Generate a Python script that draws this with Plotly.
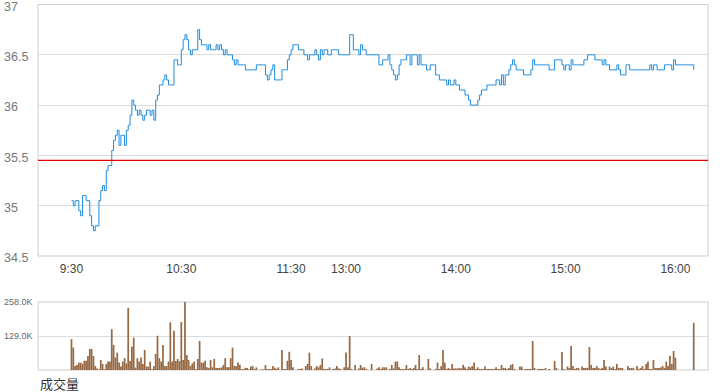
import plotly.graph_objects as go

# ---- data (HK-style intraday: 09:30-12:00, 13:00-16:10; index = trading minute since open) ----
prev_close = 35.45

price = [
    35.05, 35.0, 35.05, 35.05, 34.95, 34.9, 35.1, 35.1, 35.05, 35.05,
    34.9, 34.8, 34.75, 34.8, 34.8, 35.05, 35.15, 35.2, 35.15, 35.35,
    35.4, 35.4, 35.55, 35.65, 35.7, 35.75, 35.6, 35.7, 35.7, 35.6,
    35.75, 35.8, 35.9, 36.05, 36.0, 35.95, 35.9, 35.95, 35.9, 35.85,
    35.9, 35.95, 35.95, 35.9, 35.95, 35.85, 36.05, 36.1, 36.2, 36.2,
    36.25, 36.3, 36.25, 36.2, 36.2, 36.2, 36.45, 36.45, 36.4, 36.4,
    36.55, 36.65, 36.7, 36.65, 36.55, 36.5, 36.55, 36.55, 36.55, 36.75,
    36.65, 36.6, 36.6, 36.6, 36.55, 36.6, 36.55, 36.55, 36.55, 36.6,
    36.55, 36.6, 36.55, 36.5, 36.55, 36.5, 36.5, 36.5, 36.45, 36.4,
    36.45, 36.4, 36.4, 36.4, 36.4, 36.35, 36.35, 36.35, 36.35, 36.35,
    36.35, 36.4, 36.4, 36.4, 36.4, 36.4, 36.3, 36.25, 36.3, 36.35,
    36.4, 36.25, 36.25, 36.25, 36.25, 36.35, 36.35, 36.35, 36.45, 36.5,
    36.55, 36.6, 36.6, 36.6, 36.55, 36.55, 36.55, 36.5, 36.5, 36.45,
    36.5, 36.5, 36.5, 36.55, 36.5, 36.45, 36.55, 36.5, 36.55, 36.55,
    36.5, 36.5, 36.55, 36.55, 36.55, 36.55, 36.5, 36.5, 36.5, 36.5,
    36.5, 36.5, 36.7, 36.7, 36.55, 36.55, 36.55, 36.5, 36.6, 36.55,
    36.55, 36.5, 36.5, 36.5, 36.5, 36.5, 36.5, 36.5, 36.4, 36.4,
    36.45, 36.45, 36.45, 36.5, 36.4, 36.35, 36.3, 36.25, 36.3, 36.4,
    36.45, 36.45, 36.45, 36.5, 36.5, 36.4, 36.5, 36.5, 36.5, 36.4,
    36.5, 36.4, 36.4, 36.4, 36.35, 36.35, 36.4, 36.4, 36.4, 36.3,
    36.3, 36.25, 36.25, 36.25, 36.25, 36.2, 36.25, 36.2, 36.2, 36.25,
    36.2, 36.2, 36.15, 36.15, 36.15, 36.1, 36.1, 36.05, 36.0, 36.0,
    36.0, 36.0, 36.05, 36.1, 36.15, 36.15, 36.15, 36.2, 36.2, 36.2,
    36.2, 36.2, 36.25, 36.25, 36.2, 36.3, 36.2, 36.3, 36.3, 36.35,
    36.4, 36.45, 36.4, 36.35, 36.35, 36.35, 36.35, 36.3, 36.3, 36.3,
    36.3, 36.35, 36.45, 36.4, 36.4, 36.4, 36.4, 36.4, 36.4, 36.4,
    36.4, 36.35, 36.35, 36.35, 36.45, 36.45, 36.45, 36.45, 36.4, 36.35,
    36.4, 36.4, 36.35, 36.45, 36.4, 36.4, 36.4, 36.4, 36.4, 36.4,
    36.45, 36.45, 36.5, 36.5, 36.5, 36.5, 36.45, 36.45, 36.45, 36.45,
    36.4, 36.45, 36.4, 36.4, 36.35, 36.35, 36.35, 36.35, 36.4, 36.35,
    36.3, 36.3, 36.3, 36.4, 36.4, 36.35, 36.35, 36.35, 36.35, 36.35,
    36.35, 36.35, 36.35, 36.35, 36.35, 36.35, 36.4, 36.35, 36.4, 36.4,
    36.35, 36.35, 36.35, 36.35, 36.4, 36.4, 36.4, 36.4, 36.35, 36.45,
    36.4, 36.4, 36.4, 36.4, 36.4, 36.4, 36.4, 36.4, 36.4, 36.4,
    36.35,
]

volume_k = [
    117, 85, 15, 19, 28, 28, 23, 35, 35, 53,
    80, 80, 53, 15, 6, 2, 38, 23, 3, 23,
    32, 32, 155, 95, 47, 66, 28, 13, 32, 45,
    25, 236, 34, 89, 123, 9, 45, 32, 47, 23,
    76, 13, 13, 32, 3, 15, 61, 130, 45, 32,
    95, 15, 15, 32, 181, 32, 149, 34, 42, 34,
    182, 38, 258, 57, 38, 15, 25, 32, 3, 42,
    110, 28, 28, 35, 10, 8, 38, 10, 42, 8,
    8, 8, 10, 19, 45, 10, 10, 45, 85, 15,
    15, 28, 20, 3, 3, 8, 8, 2, 13, 15,
    4, 10, 0, 0, 3, 2, 19, 4, 4, 4,
    15, 9, 5, 10, 0, 76, 4, 4, 35, 69,
    38, 10, 0, 0, 4, 4, 6, 0, 15, 23,
    66, 15, 0, 6, 15, 10, 19, 44, 4, 4,
    4, 10, 0, 4, 6, 15, 6, 4, 0, 10,
    66, 10, 129, 4, 0, 19, 0, 6, 19, 9,
    10, 4, 0, 0, 23, 0, 0, 6, 10, 4,
    10, 10, 10, 0, 4, 19, 6, 32, 32, 10,
    4, 4, 4, 19, 4, 8, 4, 8, 19, 4,
    57, 4, 10, 0, 0, 42, 6, 0, 0, 4,
    28, 4, 15, 76, 28, 4, 8, 4, 23, 6,
    6, 6, 8, 6, 19, 10, 4, 13, 10, 15,
    28, 4, 10, 4, 4, 4, 13, 4, 4, 4,
    4, 4, 10, 4, 4, 19, 8, 8, 4, 8,
    19, 23, 4, 0, 0, 13, 13, 0, 4, 4,
    4, 4, 110, 8, 0, 4, 4, 4, 4, 8,
    0, 4, 0, 0, 34, 8, 0, 0, 68, 4,
    0, 13, 8, 91, 15, 4, 8, 8, 0, 13,
    8, 8, 8, 87, 19, 8, 8, 15, 8, 4,
    8, 38, 13, 0, 13, 8, 13, 4, 23, 8,
    8, 8, 0, 0, 15, 8, 8, 8, 0, 15,
    4, 8, 15, 4, 23, 32, 4, 4, 38, 8,
    8, 8, 10, 15, 8, 32, 15, 54, 23, 72,
    47, 0, 0, 0, 0, 0, 0, 0, 0, 0,
    179,
]

minute_idx = list(range(len(price)))
tick_idx = [0, 60, 120, 150, 210, 270, 330]
tick_text = ["9:30", "10:30", "11:30", "13:00", "14:00", "15:00", "16:00"]
price_ticks = [34.5, 35, 35.5, 36, 36.5, 37]
vol_max = max(volume_k)
vol_ticks = [vol_max / 2, vol_max]
vol_tick_text = [f"{v:.1f}K" for v in vol_ticks]
volume_label = "成交量"

# ---- layout geometry ----
W, H = 720, 392
xdom = [38 / W, 708 / W]
price_dom = [(H - 256) / H, (H - 4.5) / H]
vol_dom = [(H - 370) / H, (H - 302) / H]
xrange_ = [-18.3, 347.8]

FONT = "Liberation Sans, Arial, Noto Sans CJK SC, sans-serif"
GRID = "#dcdcdc"
FRAME = "#cccccc"

fig = go.Figure()
fig.add_trace(go.Scatter(
    x=minute_idx, y=price, mode="lines", line=dict(color="#1f8ce0", width=1, shape="hv"),
    xaxis="x", yaxis="y", showlegend=False, hoverinfo="skip"))
fig.add_trace(go.Bar(
    x=minute_idx, y=volume_k, marker=dict(color="#976a45", line=dict(width=0)),
    xaxis="x2", yaxis="y2", showlegend=False, hoverinfo="skip"))

fig.update_layout(
    width=W, height=H, autosize=False,
    margin=dict(l=0, r=0, t=0, b=0),
    paper_bgcolor="white", plot_bgcolor="white",
    font=dict(family=FONT, size=12, color="#555"),
    bargap=0.05,
    xaxis=dict(domain=xdom, range=xrange_, anchor="y", showgrid=False, zeroline=False,
               showline=False, ticks="", tickmode="array", tickvals=tick_idx, ticktext=tick_text,
               tickfont=dict(size=12, color="#444"), ticklabelstandoff=4, automargin=False),
    yaxis=dict(domain=price_dom, range=[34.5, 37], anchor="free", position=0,
               ticklabelposition="inside", ticklabeloverflow="allow", ticklabelshift=2,
               tickmode="array", tickvals=price_ticks,
               showgrid=True, gridcolor=GRID, zeroline=False, showline=False, ticks="",
               tickfont=dict(size=12.5, color="#777"), automargin=False),
    xaxis2=dict(domain=xdom, range=xrange_, anchor="y2", showgrid=False, zeroline=False,
                showline=False, ticks="", showticklabels=False, automargin=False),
    yaxis2=dict(domain=vol_dom, range=[0, vol_max], anchor="free", position=0,
                ticklabelposition="inside", ticklabeloverflow="allow",
                tickmode="array", tickvals=vol_ticks,
                ticktext=vol_tick_text, showgrid=True, gridcolor=GRID, zeroline=False,
                showline=False, ticks="", tickfont=dict(size=9, color="#666"), automargin=False),
    shapes=[
        dict(type="rect", xref="x domain", yref="y domain", x0=0, x1=1, y0=0, y1=1,
             line=dict(color=FRAME, width=1), layer="below"),
        dict(type="rect", xref="x2 domain", yref="y2 domain", x0=0, x1=1, y0=0, y1=1,
             line=dict(color=FRAME, width=1), layer="below"),
        dict(type="line", xref="x domain", yref="y", x0=0, x1=1, y0=prev_close, y1=prev_close,
             line=dict(color="#e60000", width=1.3)),
    ],
    annotations=[
        dict(text=volume_label, xref="paper", yref="paper", x=38 / W, y=(H - 384) / H,
             xanchor="left", yanchor="middle", showarrow=False,
             font=dict(size=13, color="#333", family=FONT)),
    ],
)

fig.write_html("out.html", config={"displayModeBar": False, "staticPlot": True},
               post_script="document.body.style.margin='0';")
